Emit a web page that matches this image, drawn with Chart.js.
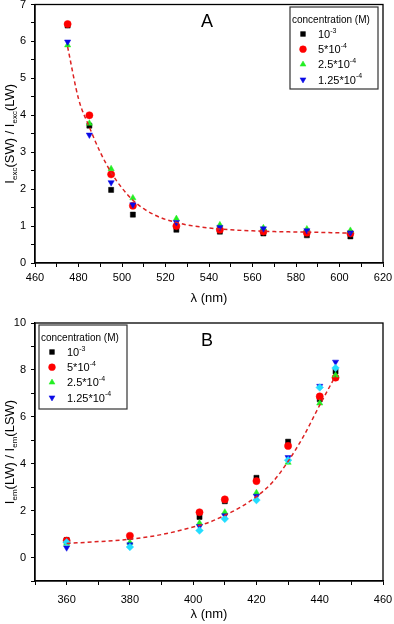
<!DOCTYPE html>
<html>
<head>
<meta charset="utf-8">
<script src="https://cdn.jsdelivr.net/npm/chart.js@4.4.1/dist/chart.umd.min.js"></script>
<style>
  html, body { margin: 0; padding: 0; background: #fff; }
  #wrap { width: 394px; height: 624px; position: relative; }
  canvas { display: block; }
</style>
</head>
<body>
<div id="wrap">
  <canvas id="cA" width="394" height="310"></canvas>
  <canvas id="cB" width="394" height="314"></canvas>
</div>
<script>
// ---------------- DATA: panel A ----------------
const lambdaA = [475, 485, 495, 505, 525, 545, 565, 585, 605];
const A_c1e3   = [6.43, 3.72, 1.98, 1.31, 0.90, 0.85, 0.80, 0.75, 0.72];
const A_c5e4   = [6.47, 4.00, 2.40, 1.55, 1.00, 0.90, 0.85, 0.82, 0.80];
const A_c25e5  = [5.90, 3.78, 2.55, 1.76, 1.20, 1.03, 0.95, 0.92, 0.88];
const A_c125e5 = [5.99, 3.47, 2.18, 1.58, 1.10, 0.97, 0.93, 0.88, 0.82];
const fitA_x = [475, 480, 485, 490, 495, 500, 505, 510, 515, 520, 525, 530, 540, 550, 560, 570, 580, 590, 605];
const fitA_y = [5.85, 4.45, 3.68, 3.00, 2.45, 2.03, 1.70, 1.47, 1.30, 1.18, 1.10, 1.03, 0.95, 0.90, 0.87, 0.85, 0.84, 0.83, 0.81];
const xTicksA = [460, 480, 500, 520, 540, 560, 580, 600, 620];
const yTicksA = [0, 1, 2, 3, 4, 5, 6, 7];

// ---------------- DATA: panel B ----------------
const lambdaB = [360, 380, 402, 410, 420, 430, 440, 445];
const B_c1e3   = [0.75, 0.88, 1.73, 2.40, 3.40, 4.94, 6.75, 7.94];
const B_c5e4   = [0.72, 0.93, 1.93, 2.48, 3.26, 4.76, 6.87, 7.67];
const B_c25e5  = [0.60, 0.64, 1.47, 1.93, 2.76, 4.05, 6.58, 7.77];
const B_c125e5 = [0.42, 0.55, 1.33, 1.79, 2.62, 4.27, 7.31, 8.34];
const B_extra  = [0.65, 0.45, 1.15, 1.65, 2.45, 4.15, 7.25, 8.08];
const fitB_x = [360, 370, 380, 390, 400, 405, 410, 415, 420, 425, 430, 435, 440, 445];
const fitB_y = [0.60, 0.68, 0.78, 0.98, 1.30, 1.50, 1.80, 2.15, 2.60, 3.20, 4.10, 5.20, 6.50, 7.75];
const xTicksB = [360, 380, 400, 420, 440, 460];
const yTicksB = [0, 2, 4, 6, 8, 10];

const legendTitle = 'concentration (M)';
const legendLabels = [
  [{t: '10'}, {t: '-3', sup: true}],
  [{t: '5*10'}, {t: '-4', sup: true}],
  [{t: '2.5*10'}, {t: '-4', sup: true}],
  [{t: '1.25*10'}, {t: '-4', sup: true}]
];

// ---------------- styling ----------------
const FONT = '"Liberation Sans", Arial, Helvetica, sans-serif';
const COL = { black: '#000000', red: '#ff0000', green: '#22ee22', blue: '#0a0ae6', cyan: '#22ddff', fit: '#dd2222' };

function pts(xs, ys) { return xs.map((x, i) => ({ x: x, y: ys[i] })); }

function scatterSet(label, xs, ys, color, style, rot, order, r) {
  return {
    type: 'scatter', label: label, data: pts(xs, ys),
    pointStyle: style, rotation: rot || 0, pointRadius: r || 3.6,
    backgroundColor: color, borderColor: color, borderWidth: 0.5, order: order
  };
}
function fitSet(xs, ys) {
  return {
    type: 'line', label: 'fit', data: pts(xs, ys), borderColor: COL.fit, borderWidth: 1.5,
    borderDash: [4, 3], pointRadius: 0, tension: 0.4, cubicInterpolationMode: 'monotone', fill: false, order: 0
  };
}

function richWidth(ctx, parts, size) {
  let w = 0;
  parts.forEach(p => {
    ctx.font = (p.sub || p.sup ? Math.round(size * 0.62) : size) + 'px ' + FONT;
    w += ctx.measureText(p.t).width;
  });
  return w;
}
function drawRich(ctx, parts, x, y, size) {
  ctx.textBaseline = 'middle';
  ctx.textAlign = 'left';
  let cx = x;
  parts.forEach(p => {
    const s = p.sub || p.sup ? Math.round(size * 0.62) : size;
    ctx.font = s + 'px ' + FONT;
    let dy = 0;
    if (p.sub) dy = size * 0.38;
    if (p.sup) dy = -size * 0.38;
    ctx.fillText(p.t, cx, y + dy);
    cx += ctx.measureText(p.t).width;
  });
}

function drawMarker(ctx, style, rot, color, r, x, y) {
  ctx.save();
  ctx.fillStyle = color; ctx.strokeStyle = color; ctx.lineWidth = 0.5;
  if (Chart.helpers && Chart.helpers.drawPoint) {
    Chart.helpers.drawPoint(ctx, { pointStyle: style, rotation: rot, radius: r, borderWidth: 0.5 }, x, y);
  }
  ctx.restore();
}

// plugin: frame, panel letter, y title, legend
const decor = {
  id: 'decor',
  afterDraw(chart) {
    const o = chart.options.plugins.decor;
    const ctx = chart.ctx;
    const a = chart.chartArea;
    ctx.save();
    // frame
    ctx.strokeStyle = '#000'; ctx.lineWidth = 1.3;
    ctx.strokeRect(a.left, a.top, a.right - a.left, a.bottom - a.top);
    // letter
    ctx.fillStyle = '#000';
    ctx.font = '18px ' + FONT; ctx.textAlign = 'center'; ctx.textBaseline = 'middle';
    ctx.fillText(o.letter, o.letterX, o.letterY);
    // y title
    ctx.save();
    const w = richWidth(ctx, o.yTitle, 13);
    ctx.translate(o.yTitleX, (a.top + a.bottom) / 2 + (o.yTitleDy || 0));
    ctx.rotate(-Math.PI / 2);
    drawRich(ctx, o.yTitle, -w / 2, 0, 13);
    ctx.restore();
    // legend box
    const L = o.legend;
    ctx.strokeStyle = '#333'; ctx.lineWidth = 1.2;
    ctx.strokeRect(L.x, L.y, L.w, L.h);
    ctx.fillStyle = '#000';
    ctx.font = '10px ' + FONT; ctx.textAlign = 'left'; ctx.textBaseline = 'middle';
    ctx.fillText(legendTitle, L.x + 2, L.y + 13);
    const sets = chart.data.datasets.filter(d => d.type === 'scatter').slice(0, 4);
    sets.forEach((d, i) => {
      const yy = L.y + 27 + i * 15.2;
      drawMarker(ctx, d.pointStyle, d.rotation, d.backgroundColor, 3.4, L.x + 13, yy);
      ctx.fillStyle = '#000';
      drawRich(ctx, legendLabels[i], L.x + 28, yy + 1, 11);
    });
    ctx.restore();
  }
};

function axisX(min, max, labels, h, pad, tpad) {
  return {
    type: 'linear', min: min, max: max,
    afterBuildTicks(s) { const t = []; for (let v = min; v <= max + 1e-9; v += 10) t.push({ value: v }); s.ticks = t; },
    afterFit(s) { s.height = h; s.paddingLeft = 0; s.paddingRight = 0; },
    ticks: { color: '#000', font: { size: 11, family: FONT }, padding: pad, maxRotation: 0, minRotation: 0, autoSkip: false,
      callback: v => labels.includes(v) ? String(v) : '' },
    grid: { drawOnChartArea: false, drawTicks: true, tickLength: 4, color: '#000', lineWidth: 1 },
    border: { display: true, color: '#000', width: 1.3 },
    title: { display: true, text: 'λ (nm)', color: '#000', font: { size: 13, family: FONT }, padding: { top: tpad, bottom: 0 } }
  };
}
function axisY(min, max, step, labels) {
  return {
    type: 'linear', min: min, max: max,
    afterBuildTicks(s) { const t = []; for (let v = min; v <= max + 1e-9; v += step) t.push({ value: Math.round(v * 100) / 100 }); s.ticks = t; },
    afterFit(s) { s.width = 35; s.paddingTop = 0; s.paddingBottom = 0; },
    ticks: { color: '#000', font: { size: 11, family: FONT }, padding: 5, autoSkip: false,
      callback: v => labels.includes(v) ? String(v) : '' },
    grid: { drawOnChartArea: false, drawTicks: true, tickLength: 4, color: '#000', lineWidth: 1 },
    border: { display: true, color: '#000', width: 1.3 }
  };
}

const baseOpts = { responsive: false, animation: false, events: [] };

new Chart(document.getElementById('cA'), {
  data: {
    datasets: [
      fitSet(fitA_x, fitA_y),
      scatterSet('1e-3', lambdaA, A_c1e3, COL.black, 'rect', 0, 5),
      scatterSet('5e-4', lambdaA, A_c5e4, COL.red, 'circle', 0, 4),
      scatterSet('2.5e-4', lambdaA, A_c25e5, COL.green, 'triangle', 0, 3),
      scatterSet('1.25e-4', lambdaA, A_c125e5, COL.blue, 'triangle', 180, 2)
    ]
  },
  options: Object.assign({}, baseOpts, {
    layout: { padding: { top: 4, right: 11, left: 0, bottom: 4 } },
    scales: { x: axisX(460, 620, xTicksA, 43, 4, 2), y: axisY(0, 7, 0.5, yTicksA) },
    plugins: {
      legend: { display: false }, tooltip: { enabled: false },
      decor: { letter: 'A', letterX: 207, letterY: 22, yTitleX: 10,
        yTitle: [{t: 'I'}, {t: 'exc', sub: true}, {t: '(SW) / I'}, {t: 'exc', sub: true}, {t: '(LW)'}],
        legend: { x: 290, y: 7, w: 88, h: 82 } }
    }
  }),
  plugins: [decor]
});

new Chart(document.getElementById('cB'), {
  data: {
    datasets: [
      fitSet(fitB_x, fitB_y),
      scatterSet('1e-3', lambdaB, B_c1e3, COL.black, 'rect', 0, 5),
      scatterSet('5e-4', lambdaB, B_c5e4, COL.red, 'circle', 0, 4),
      scatterSet('2.5e-4', lambdaB, B_c25e5, COL.green, 'triangle', 0, 3),
      scatterSet('1.25e-4', lambdaB, B_c125e5, COL.blue, 'triangle', 180, 2),
      scatterSet('extra', lambdaB, B_extra, COL.cyan, 'rectRot', 0, 1, 3.8)
    ]
  },
  options: Object.assign({}, baseOpts, {
    layout: { padding: { top: 13, right: 11, left: 0, bottom: 2 } },
    scales: { x: axisX(350, 460, xTicksB, 41, 8, 5), y: axisY(-1, 10, 1, yTicksB) },
    plugins: {
      legend: { display: false }, tooltip: { enabled: false },
      decor: { letter: 'B', letterX: 207, letterY: 31, yTitleX: 10,
        yTitle: [{t: 'I'}, {t: 'em', sub: true}, {t: '(LW) / I'}, {t: 'em', sub: true}, {t: '(LSW)'}],
        legend: { x: 39, y: 15, w: 88, h: 84 } }
    }
  }),
  plugins: [decor]
});
</script>
</body>
</html>
